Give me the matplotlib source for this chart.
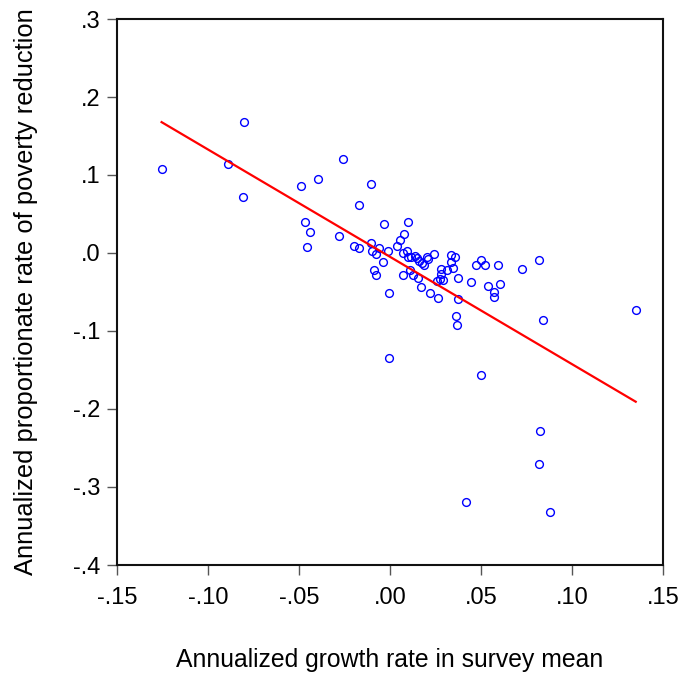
import numpy as np
import matplotlib
matplotlib.use("Agg")
import matplotlib.pyplot as plt
from matplotlib.ticker import FixedLocator

plt.rcParams['font.family'] = ['Liberation Sans', 'DejaVu Sans']

# annualized growth rate in survey mean
growth = [
    -0.1255, -0.0892, -0.0800, -0.0810, -0.0256, -0.0397, -0.0490, -0.0103,
    -0.0172, -0.0467, -0.0440, -0.0458, -0.0280, -0.0033, -0.0196, -0.0170,
    -0.0103, -0.0099, -0.0075, -0.0060, -0.0009, -0.0040, -0.0090, -0.0079,
    -0.0004, 0.0097, 0.0077, 0.0057, 0.0038, 0.0070, 0.0095, 0.0099,
    0.0117, 0.0139, 0.0150, 0.0159, 0.0176, 0.0185, 0.0201, 0.0210,
    0.0243, 0.0110, 0.0128, 0.0152, 0.0071, 0.0168, 0.0218, 0.0266,
    0.0278, 0.0278, 0.0275, 0.0290, 0.0260, 0.0311, 0.0335, 0.0359,
    0.0335, 0.0344, 0.0375, 0.0374, 0.0363, 0.0368, 0.0445, 0.0471,
    0.0500, 0.0520, 0.0538, 0.0595, 0.0604, 0.0571, 0.0570, 0.0724,
    0.0817, 0.0841, 0.1350, -0.0007, 0.0500, 0.0822, 0.0817, 0.0416,
    0.0877,
]
# annualized proportionate rate of poverty reduction
poverty = [
    0.1080, 0.1145, 0.1680, 0.0720, 0.1205, 0.0950, 0.0860, 0.0889,
    0.0610, 0.0400, 0.0270, 0.0073, 0.0218, 0.0368, 0.0086, 0.0068,
    0.0132, 0.0026, -0.0013, 0.0060, 0.0030, -0.0120, -0.0220, -0.0280,
    -0.0510, 0.0397, 0.0240, 0.0162, 0.0094, -0.0004, 0.0020, -0.0047,
    -0.0055, -0.0038, -0.0060, -0.0098, -0.0124, -0.0154, -0.0055, -0.0080,
    -0.0009, -0.0218, -0.0280, -0.0316, -0.0286, -0.0440, -0.0513, -0.0577,
    -0.0205, -0.0265, -0.0333, -0.0346, -0.0355, -0.0218, -0.0030, -0.0047,
    -0.0115, -0.0188, -0.0320, -0.0594, -0.0808, -0.0919, -0.0376, -0.0154,
    -0.0094, -0.0158, -0.0423, -0.0158, -0.0402, -0.0504, -0.0560, -0.0210,
    -0.0094, -0.0863, -0.0735, -0.1350, -0.1570, -0.2278, -0.2705, -0.3188,
    -0.3325,
]

# fitted line (intercept, slope) as drawn in the original
fit_intercept = -0.0049
fit_slope = -1.376

x_ticks = [-0.15, -0.10, -0.05, 0.00, 0.05, 0.10, 0.15]
x_ticklabels = ["-.15", "-.10", "-.05", ".00", ".05", ".10", ".15"]
y_ticks = [-0.4, -0.3, -0.2, -0.1, 0.0, 0.1, 0.2, 0.3]
y_ticklabels = ["-.4", "-.3", "-.2", "-.1", ".0", ".1", ".2", ".3"]

fig = plt.figure(figsize=(6.85, 6.75), dpi=100)
ax = fig.add_axes([117 / 685, 1 - 565 / 675, (663 - 117) / 685, (565 - 19) / 675])

x = np.array(growth)
y = np.array(poverty)
ax.plot(x, y, linestyle="none", marker="o", markersize=5.6,
        markerfacecolor="none", markeredgecolor="#0000ff", markeredgewidth=1.0)

x_line = np.array([x.min(), x.max()])
ax.plot(x_line, fit_intercept + fit_slope * x_line, color="#ff0000", linewidth=1.6)

ax.set_xlim(-0.15, 0.15)
ax.set_ylim(-0.4, 0.3)
ax.xaxis.set_major_locator(FixedLocator(x_ticks))
ax.yaxis.set_major_locator(FixedLocator(y_ticks))
ax.set_xticklabels(x_ticklabels)
ax.set_yticklabels(y_ticklabels)
ax.tick_params(axis="both", direction="out", length=7, width=1, color="#555555",
               labelsize=17, pad=5)
ax.tick_params(axis="x", pad=9)

for s in ax.spines.values():
    s.set_linewidth(1.5)
    s.set_color("#111111")

ax.set_xlabel("Annualized growth rate in survey mean", fontsize=17.8, labelpad=28)
ax.set_ylabel("Annualized proportionate rate of poverty reduction", fontsize=18.4, labelpad=25)

fig.savefig("out.png", dpi=100)
